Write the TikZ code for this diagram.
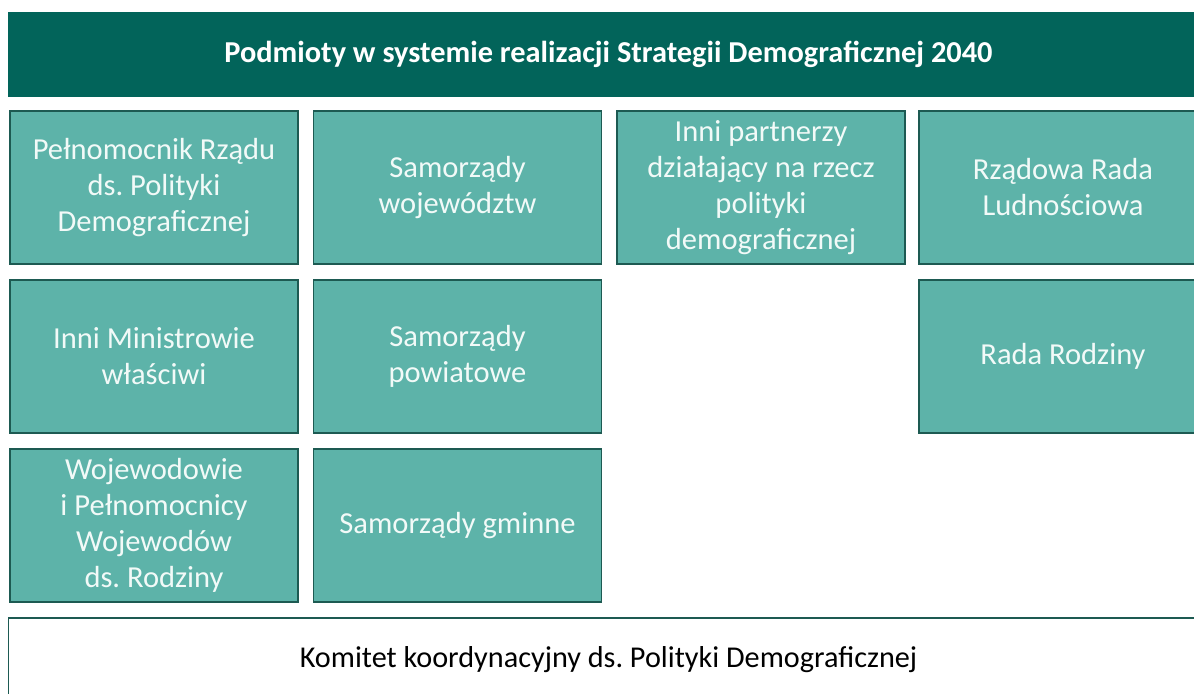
\documentclass[tikz,border=0pt]{standalone}
\usepackage{fontspec}
\setmainfont{Carlito}
\usepackage{tikz}
\definecolor{strategiadark}{HTML}{02645A}
\definecolor{strategiateal}{HTML}{5DB3A9}
\definecolor{strategiaedge}{HTML}{1D5A52}
\definecolor{strategiatext}{HTML}{F2FAF8}
\frenchspacing

\begin{document}
\begin{tikzpicture}
  [x=0.025cm,y=-0.025cm,
   every node/.style={rectangle,draw=strategiaedge,line width=0.9pt,inner sep=0pt,align=center},
   entity/.style={fill=strategiateal,text=strategiatext,minimum width=7.2cm,minimum height=3.825cm,
     font=\fontsize{21.7}{25.6}\selectfont},
   header/.style={fill=strategiadark,draw=strategiadark,text=white,minimum width=29.975cm,minimum height=2.075cm,
     font=\fontsize{21.6}{25}\selectfont\bfseries},
   committee/.style={fill=white,text=black,minimum width=29.975cm,minimum height=2.1cm,
     font=\fontsize{21.5}{25.6}\selectfont}]

  \clip (0,0) rectangle (1194,693);
  \fill[white] (0,0) rectangle (1194,693);

  \node[header] (title) at (608.5,54.5) {Podmioty w systemie realizacji Strategii Demograficznej 2040};

  \node[entity] (pelnomocnik) at (154,187.5) {Pełnomocnik Rządu\\ds. Polityki\\Demograficznej};
  \node[entity] (wojewodztwa) at (457.5,187.5) {Samorządy\\województw};
  \node[entity] (partnerzy) at (761,187.5) {Inni partnerzy\\działający na rzecz\\polityki\\demograficznej};
  \node[entity] (rzadowa) at (1063,187.5) {Rządowa Rada\\Ludnościowa};

  \node[entity] (ministrowie) at (154,356.5) {Inni Ministrowie\\właściwi};
  \node[entity] (powiaty) at (457.5,356.5) {Samorządy\\powiatowe};
  \node[entity] (rodzina) at (1063,356.5) {Rada Rodziny};

  \node[entity] (wojewodowie) at (154,525.5) {Wojewodowie\\i Pełnomocnicy\\Wojewodów\\ds. Rodziny};
  \node[entity] (gminy) at (457.5,525.5) {Samorządy gminne};

  \node[committee] (komitet) at (608.5,660) {Komitet koordynacyjny ds. Polityki Demograficznej};
\end{tikzpicture}
\end{document}
